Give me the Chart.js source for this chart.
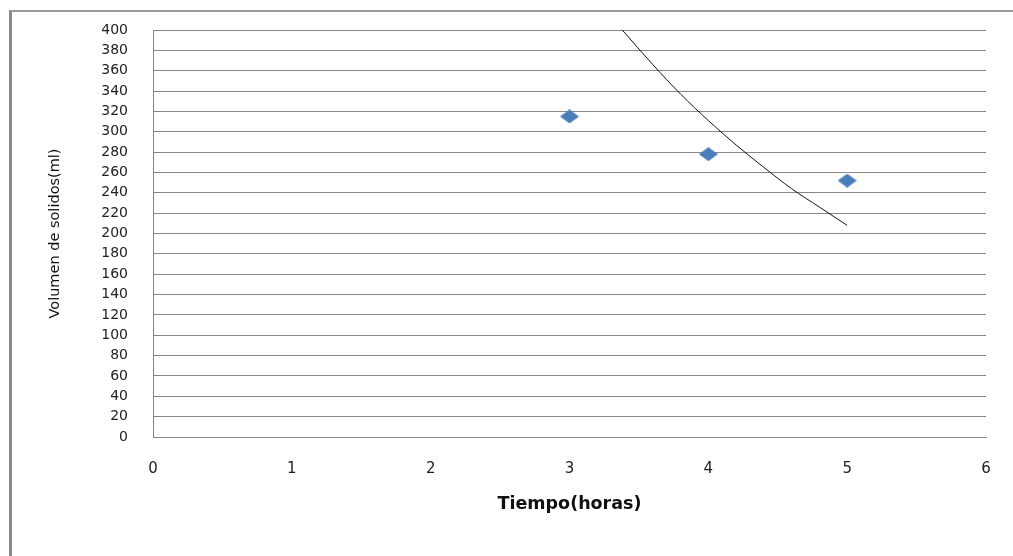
<!DOCTYPE html>
<html>
<head>
<meta charset="utf-8">
<title>Volumen de solidos</title>
<script src="https://cdn.jsdelivr.net/npm/chart.js"></script>
<style>
  html, body { margin: 0; padding: 0; background: #fff; overflow: hidden; }
  #frame {
    position: absolute; left: 9px; top: 10px; width: 1100px; height: 600px;
    border-left: 3px solid #8a8a8a; border-top: 2px solid #9a9a9a;
  }
  #wrap { position: absolute; left: 0; top: 0; width: 1013px; height: 556px; }
</style>
</head>
<body>
<div id="frame"></div>
<div id="wrap"><canvas id="chart"></canvas></div>
<script>
// measured points
const horas = [3, 4, 5];
const volumen = [315, 278, 252];

// trend line
const trendHoras = [3.38, 3.6, 3.8, 4.0, 4.2, 4.4, 4.6, 4.8, 5.0];
const trendVolumen = [400, 366, 337, 311, 287, 265, 244, 226, 208];

const xTicks = [0, 1, 2, 3, 4, 5, 6];
const yTicks = [0, 20, 40, 60, 80, 100, 120, 140, 160, 180, 200, 220, 240, 260, 280, 300, 320, 340, 360, 380, 400];

// diamond marker, a bit wider than tall like the original
function diamond(w, h, color) {
  const c = document.createElement('canvas');
  c.width = w; c.height = h;
  const g = c.getContext('2d');
  g.fillStyle = color;
  g.beginPath();
  g.moveTo(w / 2, 0);
  g.lineTo(w, h / 2);
  g.lineTo(w / 2, h);
  g.lineTo(0, h / 2);
  g.closePath();
  g.fill();
  return c;
}

const marker = diamond(19, 14, '#4a7ebb');
const gridColor = '#878787';

new Chart(document.getElementById('chart'), {
  type: 'scatter',
  data: {
    datasets: [
      {
        label: 'Volumen',
        data: horas.map((x, i) => ({ x: x, y: volumen[i] })),
        pointStyle: marker,
        pointRadius: 8,
        showLine: false,
      },
      {
        label: 'Tendencia',
        data: trendHoras.map((x, i) => ({ x: x, y: trendVolumen[i] })),
        showLine: true,
        borderColor: '#111',
        borderWidth: 1,
        pointRadius: 0,
        cubicInterpolationMode: 'monotone',
      },
    ],
  },
  options: {
    responsive: true,
    maintainAspectRatio: false,
    animation: false,
    layout: { padding: { top: 30, right: 27, left: 0, bottom: 0 } },
    plugins: {
      legend: { display: false },
      tooltip: { enabled: false },
    },
    scales: {
      x: {
        type: 'linear',
        min: 0,
        max: 6,
        afterBuildTicks: (scale) => { scale.ticks = xTicks.map(v => ({ value: v })); },
        afterFit: (scale) => {
          scale.height = 119;
          scale.paddingLeft = 0;
          scale.paddingRight = 0;
        },
        grid: { display: false, drawTicks: false },
        border: { display: true, color: gridColor, width: 1 },
        ticks: {
          autoSkip: false,
          maxRotation: 0,
          padding: 23,
          color: '#222',
          font: { family: 'DejaVu Sans', size: 15 },
        },
        title: {
          display: true,
          text: 'Tiempo(horas)',
          color: '#111',
          padding: 41,
          font: { family: 'DejaVu Sans', size: 17.5, weight: 'bold' },
        },
      },
      y: {
        type: 'linear',
        min: 0,
        max: 400,
        afterBuildTicks: (scale) => { scale.ticks = yTicks.map(v => ({ value: v })); },
        afterFit: (scale) => {
          scale.width = 153;
          scale.paddingTop = 0;
          scale.paddingBottom = 0;
        },
        grid: { color: gridColor, lineWidth: 1, drawTicks: false },
        border: { display: true, color: gridColor, width: 1 },
        ticks: {
          autoSkip: false,
          padding: 25,
          color: '#222',
          font: { family: 'DejaVu Sans', size: 14 },
        },
        title: {
          display: true,
          text: 'Volumen de solidos(ml)',
          color: '#111',
          padding: 47,
          font: { family: 'DejaVu Sans', size: 14.5 },
        },
      },
    },
  },
});
</script>
</body>
</html>
